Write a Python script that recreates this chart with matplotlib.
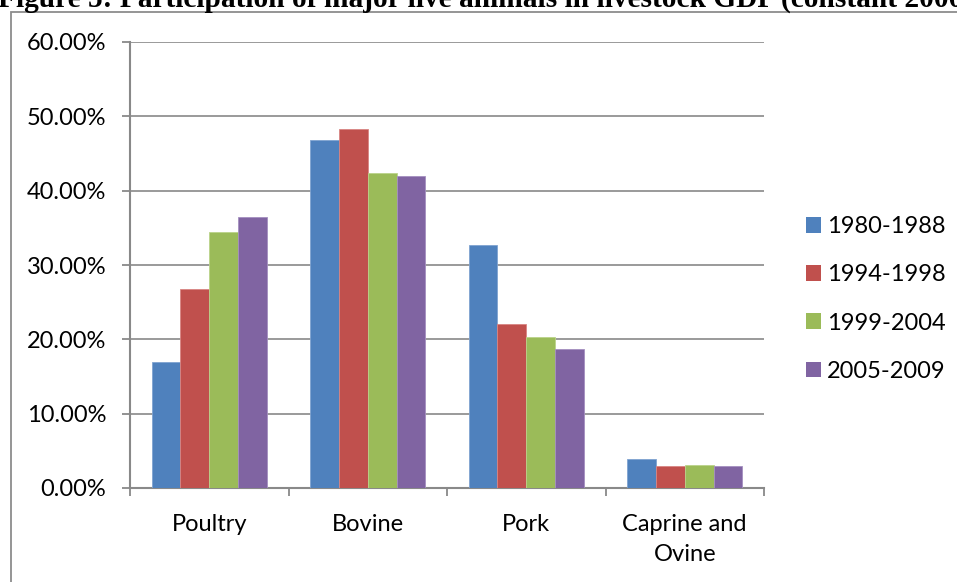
import matplotlib
matplotlib.use("Agg")
import matplotlib.pyplot as plt
import numpy as np
from matplotlib.patches import Rectangle
from matplotlib.ticker import FuncFormatter, FixedLocator

categories = ["Poultry", "Bovine", "Pork", "Caprine and\nOvine"]
series_names = ["1980-1988", "1994-1998", "1999-2004", "2005-2009"]
s1980_1988 = [16.9, 46.8, 32.7, 3.9]
s1994_1998 = [26.8, 48.3, 22.1, 2.9]
s1999_2004 = [34.4, 42.4, 20.3, 3.1]
s2005_2009 = [36.4, 42.0, 18.7, 3.0]
series_values = [s1980_1988, s1994_1998, s1999_2004, s2005_2009]
yticks = [0, 10, 20, 30, 40, 50, 60]
title = "Figure 5: Participation of major live animals in livestock GDP (constant 2000 prices)"

colors = ["#4F81BD", "#C0504D", "#9BBB59", "#8064A2"]
edges = ["#7FA3D1", "#D88583", "#BBD38A", "#A48FC0"]

FONT = "Lato"
FS = 17
W, H = 957, 582
fig = plt.figure(figsize=(W / 100, H / 100), dpi=100)

# outer chart frame (extends beyond the image at right and bottom)
fig.patches.append(Rectangle((11 / W, -0.1), 1.2, 1 - 12 / H + 0.1,
                             transform=fig.transFigure, fill=False,
                             edgecolor="#8C8C8C", linewidth=1.3))

fig.text(-2 / W, 1 - 7 / H, title, fontsize=21.2, fontweight="bold",
         family="Liberation Serif", ha="left", va="baseline")

ax = fig.add_axes([130 / W, 1 - 488 / H, (764 - 130) / W, (488 - 42) / H])

n = len(series_names)
x = np.arange(len(categories))
bw = 0.182
for i, (name, vals) in enumerate(zip(series_names, series_values)):
    ax.bar(x + (i - (n - 1) / 2) * bw, vals, width=bw, color=colors[i],
           edgecolor=edges[i], linewidth=0.6, label=name, zorder=3)

ax.set_xlim(-0.5, len(categories) - 0.5)
ax.set_ylim(0, 60)
ax.set_yticks(yticks)
ax.yaxis.set_major_formatter(FuncFormatter(lambda v, p: f"{v:.2f}%"))
ax.grid(axis="y", color="#898989", linewidth=1.2, zorder=0)
ax.set_axisbelow(True)

ax.set_xticks(x)
ax.set_xticklabels(categories, fontsize=FS, family=FONT, linespacing=1.5)
ax.xaxis.set_minor_locator(FixedLocator(np.arange(-0.5, len(categories), 1.0)))
ax.tick_params(axis="x", which="major", length=0, pad=19)
ax.tick_params(axis="x", which="minor", length=6, width=1.3, color="#898989", direction="out")
ax.tick_params(axis="y", length=6, width=1.3, color="#898989", pad=11, labelsize=FS)
for lbl in ax.get_yticklabels():
    lbl.set_family(FONT)

for side in ["top", "right"]:
    ax.spines[side].set_visible(False)
for side in ["left", "bottom"]:
    ax.spines[side].set_color("#898989")
    ax.spines[side].set_linewidth(1.5)

handles, labels = ax.get_legend_handles_labels()
leg = fig.legend(handles, labels, loc="center left",
                 bbox_to_anchor=(806 / W, 1 - 299 / H), bbox_transform=fig.transFigure,
                 frameon=False, prop={"family": FONT, "size": FS},
                 handlelength=0.64, handleheight=0.64, handletextpad=0.25,
                 labelspacing=1.15, borderpad=0, borderaxespad=0)
for h in leg.legend_handles:
    h.set_edgecolor("none")

fig.savefig("out.png", dpi=100)
